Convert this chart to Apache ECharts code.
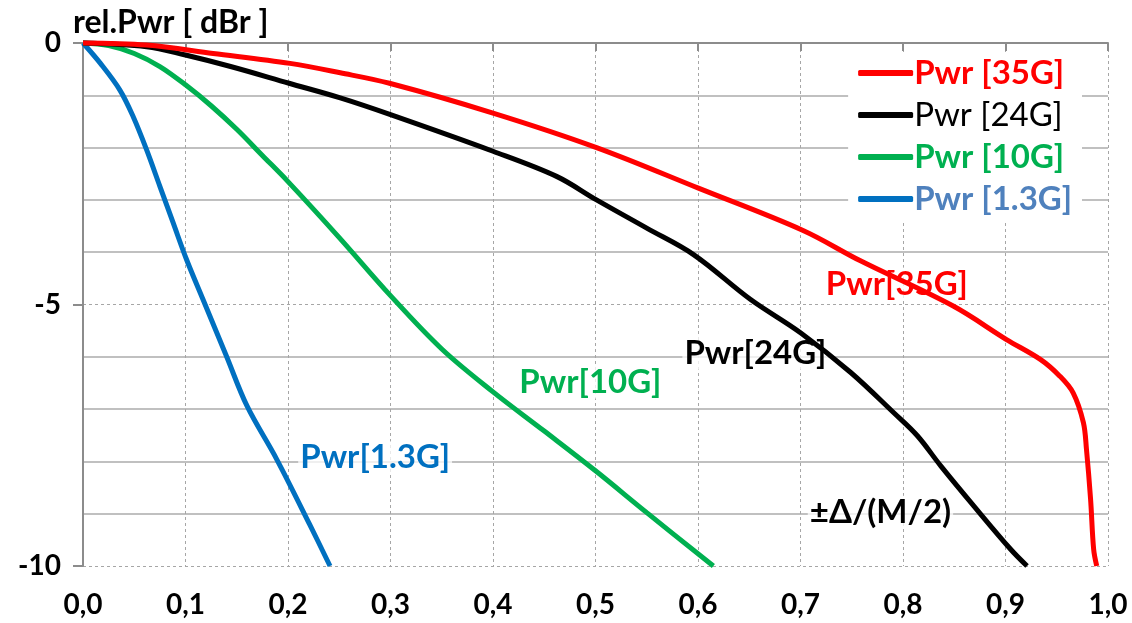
<!DOCTYPE html>
<html><head><meta charset="utf-8">
<script src="https://cdn.jsdelivr.net/npm/echarts@6/dist/echarts.min.js"></script>
<style>html,body{margin:0;padding:0;background:#fff}#c{width:1132px;height:623px}</style>
</head><body><div id="c"></div>
<script>
const seriesNames = ['Pwr [35G]', 'Pwr [24G]', 'Pwr [10G]', 'Pwr [1.3G]'];
const xTicks = ['0,0','0,1','0,2','0,3','0,4','0,5','0,6','0,7','0,8','0,9','1,0'];
const yTicks = ['0','-5','-10'];

const x35 = [0, 0.062, 0.127, 0.202, 0.251, 0.299, 0.400, 0.501, 0.601, 0.702, 0.758, 0.849, 0.901, 0.934, 0.953, 0.966, 0.976, 0.979, 0.983, 0.986, 0.989];
const y35 = [0, -0.04, -0.20, -0.39, -0.57, -0.77, -1.34, -2.0, -2.78, -3.58, -4.16, -5.03, -5.67, -6.05, -6.37, -6.69, -7.26, -7.77, -8.72, -9.68, -10];

const x24 = [0, 0.062, 0.100, 0.144, 0.201, 0.251, 0.300, 0.400, 0.462, 0.501, 0.550, 0.596, 0.651, 0.700, 0.749, 0.791, 0.814, 0.837, 0.869, 0.905, 0.921];
const y24 = [0, -0.07, -0.23, -0.45, -0.77, -1.05, -1.37, -2.07, -2.55, -3.0, -3.54, -4.05, -4.9, -5.54, -6.3, -7.07, -7.51, -8.09, -8.85, -9.68, -10];

const x10 = [0, 0.025, 0.05, 0.075, 0.1, 0.125, 0.15, 0.175, 0.2, 0.25, 0.3, 0.35, 0.4, 0.45, 0.5, 0.55, 0.615];
const y10 = [0, -0.05, -0.2, -0.45, -0.8, -1.2, -1.65, -2.15, -2.65, -3.72, -4.83, -5.85, -6.67, -7.42, -8.18, -8.98, -10];

const x13 = [0, 0.017, 0.036, 0.049, 0.062, 0.075, 0.088, 0.101, 0.117, 0.140, 0.160, 0.189, 0.221, 0.241];
const y13 = [0, -0.39, -0.90, -1.41, -2.04, -2.74, -3.44, -4.14, -4.9, -5.99, -6.94, -7.96, -9.2, -10];

const labelTexts = ['Pwr[35G]', 'Pwr[24G]', 'Pwr[10G]', 'Pwr[1.3G]', '±Δ/(M/2)'];
const labelX = [0.794, 0.656, 0.495, 0.285, 0.778];
const labelY = [-4.61, -5.93, -6.48, -7.93, -8.97];

const colors = ['#FF0000', '#000000', '#00B050', '#0070C0'];
const legendTextColors = ['#FF0000', '#000000', '#00B050', '#4F81BD'];
const legendWeights = ['bold', 'normal', 'bold', 'bold'];
const FONT = 'Lato';

function pairs(xs, ys) { return xs.map((x, i) => [x, ys[i]]); }
function mp(idxs, col) {
  return {
    symbol: 'circle', symbolSize: 0, itemStyle: {color: 'rgba(0,0,0,0)'},
    silent: true,
    label: {show: true, position: 'inside', formatter: p => p.name,
      color: col, fontFamily: FONT, fontWeight: 'bold', fontSize: 33,
      backgroundColor: 'rgba(255,255,255,0.75)', padding: [0, 2]},
    data: idxs.map(i => ({name: labelTexts[i], coord: [labelX[i], labelY[i]]}))
  };
}
const data = [pairs(x35, y35), pairs(x24, y24), pairs(x10, y10), pairs(x13, y13)];
const marks = [mp([0], colors[0]), mp([1, 4], colors[1]), mp([2], colors[2]), mp([3], colors[3])];

const chart = echarts.init(document.getElementById('c'), null, {renderer: 'canvas'});
chart.setOption({
  animation: false,
  grid: {left: 83, right: 24, top: 43, bottom: 57},
  legend: {
    orient: 'vertical', right: 50, top: 52, backgroundColor: '#fff',
    padding: [4, 10], itemGap: 8, itemWidth: 55, itemHeight: 6, icon: 'roundRect',
    textStyle: {fontFamily: FONT, fontSize: 33, lineHeight: 34, padding: [0, 0, 0, -4]},
    data: seriesNames.map((n, i) => ({name: n, textStyle: {color: legendTextColors[i], fontWeight: legendWeights[i]}}))
  },
  xAxis: {
    type: 'value', min: 0, max: 1, interval: 0.1,
    axisLine: {lineStyle: {color: '#8c8c8c', width: 2}},
    axisTick: {show: true, length: 8, lineStyle: {color: '#8c8c8c', width: 2}},
    axisLabel: {margin: 25, color: '#000', fontFamily: FONT, fontWeight: 'bold', fontSize: 28,
      formatter: v => xTicks[Math.round(v * 10)]},
    splitLine: {show: true, lineStyle: {color: '#a6a6a6', type: [3, 3], width: 1}}
  },
  yAxis: {
    type: 'value', min: -10, max: 0, interval: 5,
    name: 'rel.Pwr [ dBr ]', nameLocation: 'end', nameGap: 4,
    nameTextStyle: {color: '#000', fontFamily: FONT, fontWeight: 'bold', fontSize: 32, align: 'left', padding: [0, 0, 0, -10]},
    axisLine: {show: true, lineStyle: {color: '#8c8c8c', width: 2}},
    axisTick: {show: true, length: 10, lineStyle: {color: '#8c8c8c', width: 2}},
    axisLabel: {margin: 22, color: '#000', fontFamily: FONT, fontWeight: 'bold', fontSize: 28,
      formatter: v => yTicks[Math.round(-v / 5)]},
    splitLine: {show: true, lineStyle: {color: '#a6a6a6', type: [3, 3], width: 1}},
    minorTick: {show: false, splitNumber: 5},
    minorSplitLine: {show: true, lineStyle: {color: '#c0c0c0', width: 2}}
  },
  series: seriesNames.map((n, i) => ({
    name: n, type: 'line', data: data[i], showSymbol: false, symbol: 'none',
    smooth: 0.35, clip: false,
    lineStyle: {color: colors[i], width: 5},
    itemStyle: {color: colors[i]},
    z: 10 - i,
    markPoint: marks[i]
  }))
});
</script></body></html>
